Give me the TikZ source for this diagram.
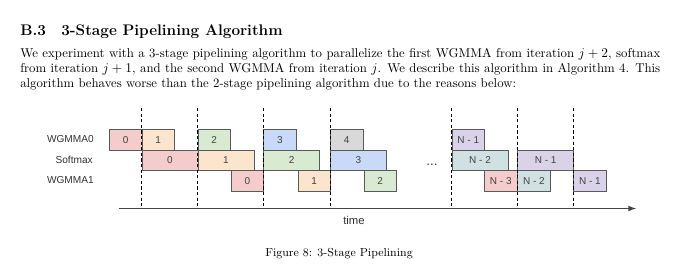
\documentclass[tikz,border=0pt]{standalone}
\usepackage{fontspec}
\usepackage{tikz}
\newfontfamily\diagfont{Liberation Sans}
\definecolor{cellline}{HTML}{595959}
\definecolor{celltext}{HTML}{434343}
\definecolor{labeltext}{HTML}{333333}
\definecolor{axisline}{HTML}{444444}
\definecolor{fillred}{HTML}{F4CCCC}
\definecolor{fillorange}{HTML}{FCE5CD}
\definecolor{fillgreen}{HTML}{D9EAD3}
\definecolor{fillblue}{HTML}{C9DAF8}
\definecolor{fillgray}{HTML}{D9D9D9}
\definecolor{fillpurple}{HTML}{D9D2E9}
\definecolor{fillteal}{HTML}{D0E0E3}

\begin{document}
\begin{tikzpicture}[x=0.75pt,y=-0.75pt,
  para/.style={anchor=base west,inner sep=0pt,font=\fontsize{9.58}{11.5}\selectfont},
  cell/.style={draw=cellline,line width=0.5pt,anchor=north west,inner sep=0pt,
    minimum height=15.4pt,text=celltext,font=\diagfont\fontsize{7.5}{9}\selectfont},
  short/.style={cell,minimum width=24.4pt},
  long/.style={cell,minimum width=42pt},
  rowlabel/.style={anchor=east,inner sep=0pt,text=labeltext,font=\diagfont\fontsize{7.6}{9}\selectfont},
  guide/.style={line width=0.7pt,dash pattern=on 2.4pt off 1.8pt}]
\useasboundingbox (0,0) rectangle (680,275);

\node[anchor=base west,inner sep=0pt,font=\fontsize{11.5}{13.8}\selectfont\bfseries] (H) at (20,35)
{B.3\quad 3-Stage Pipelining Algorithm};
\node[para] (P1) at (20,57.5)
{\makebox[480pt][s]{We experiment with a 3-stage pipelining algorithm to parallelize the first WGMMA from iteration $j+2$, softmax}};
\node[para] (P2) at (20,72.7)
{\makebox[480pt][s]{from iteration $j+1$, and the second WGMMA from iteration $j$. We describe this algorithm in Algorithm 4. This}};
\node[para] (P3) at (20,87.9)
{algorithm behaves worse than the 2-stage pipelining algorithm due to the reasons below:};

\node[rowlabel] (LA) at (94,139.5) {WGMMA0};
\node[rowlabel] (LS) at (93,160) {Softmax};
\node[rowlabel] (LB) at (94,180.5) {WGMMA1};

\node[short,fill=fillred] (A0) at (109,129) {0};
\node[short,fill=fillorange] (A1) at (141.5,129) {1};
\node[short,fill=fillgreen] (A2) at (197.5,129) {2};
\node[short,fill=fillblue] (A3) at (263.3,129) {3};
\node[short,fill=fillgray] (A4) at (330,129) {4};
\node[short,fill=fillpurple] (AN1) at (451.7,129) {N - 1};

\node[long,fill=fillred] (S0) at (141.5,149.5) {0};
\node[long,fill=fillorange] (S1) at (197.5,149.5) {1};
\node[long,fill=fillgreen] (S2) at (263.3,149.5) {2};
\node[long,fill=fillblue] (S3) at (330,149.5) {3};
\node[long,fill=fillteal] (SN2) at (451.7,149.5) {N - 2};
\node[long,fill=fillpurple] (SN1) at (517.3,149.5) {N - 1};

\node[short,fill=fillred] (B0) at (230.8,170) {0};
\node[short,fill=fillorange] (B1) at (297.5,170) {1};
\node[short,fill=fillgreen] (B2) at (363.5,170) {2};
\node[short,fill=fillred] (BN3) at (484.2,170) {N - 3};
\node[short,fill=fillteal] (BN2) at (517.3,170) {N - 2};
\node[short,fill=fillpurple] (BN1) at (573.3,170) {N - 1};

\foreach \x in {141.5,197.5,263.3,330,451.7,517.3,573.3}
  \draw[guide] (\x,108) -- (\x,208);

\node[anchor=base,font=\diagfont\fontsize{10}{12}\selectfont,text=labeltext] (D) at (432,165) {...};

\coordinate (T0) at (119,208.5);
\coordinate (T1) at (636,208.5);
\draw[axisline,line width=1pt,-latex] (T0) -- (T1);
\node[font=\diagfont\fontsize{8.5}{10}\selectfont,text=labeltext] (T) at (354,220) {time};

\node[anchor=base,inner sep=0pt,font=\fontsize{8.7}{10.5}\selectfont] (CAP) at (339,256) {Figure 8: 3-Stage Pipelining};
\end{tikzpicture}
\end{document}
